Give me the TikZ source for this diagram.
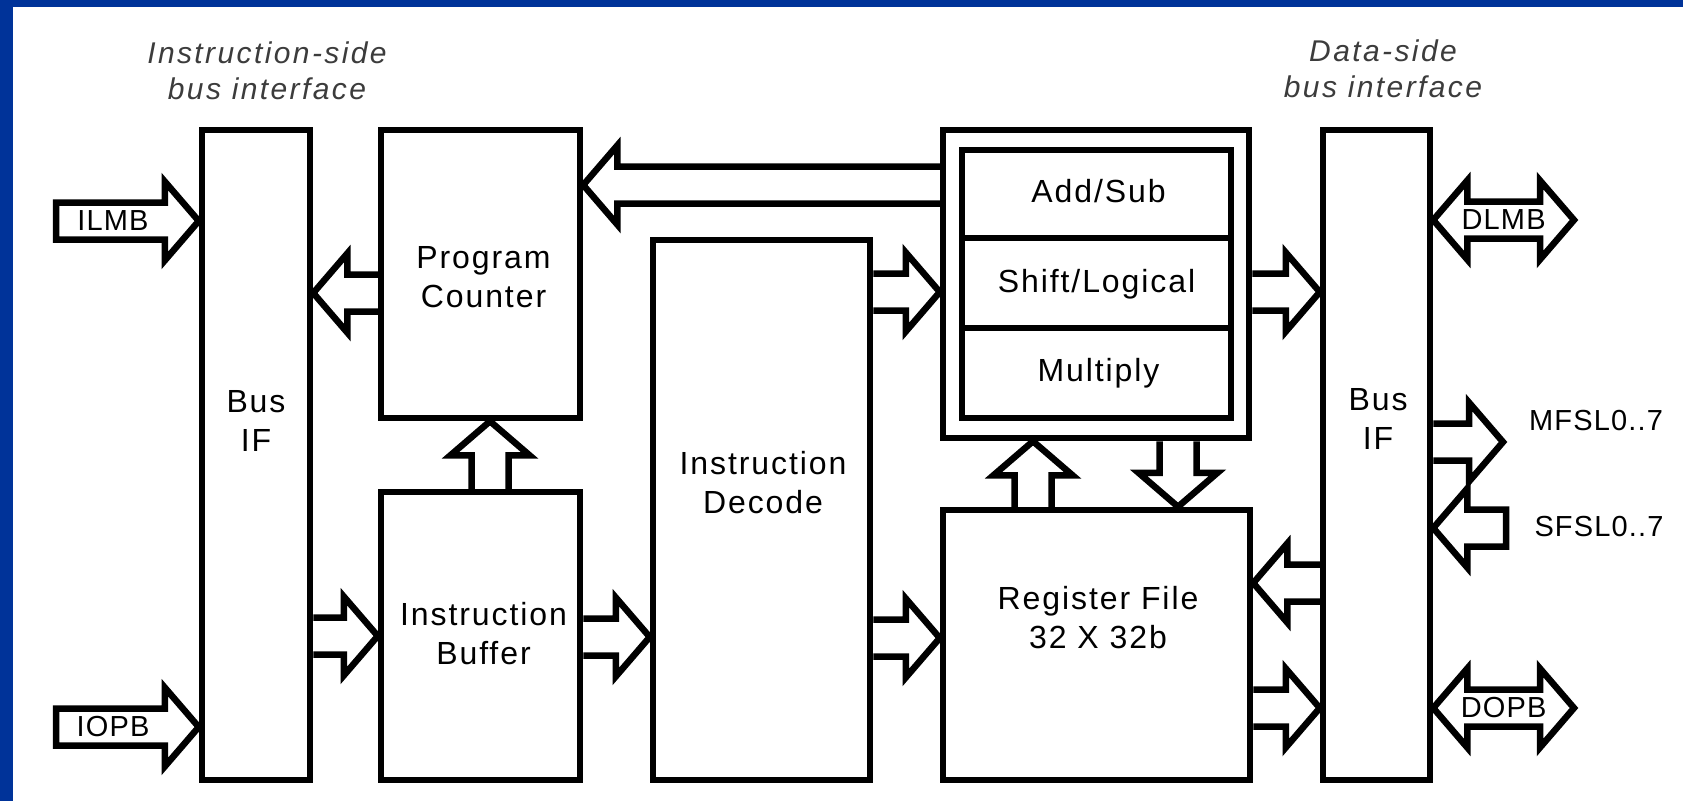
\documentclass[tikz,border=0pt]{standalone}
\usepackage{fontspec}
\setmainfont{Liberation Sans}[LetterSpace=4]
\newfontfamily\boxfam{Liberation Sans}[LetterSpace=6]
\newfontfamily\ttlfam{Liberation Sans}[LetterSpace=8]
\usetikzlibrary{calc}
\definecolor{frameblue}{RGB}{0,51,153}
\definecolor{titlegray}{RGB}{60,60,60}
\newcommand\boxfnt{\boxfam\fontsize{32}{39}\selectfont}
\newcommand\lblfnt{\fontsize{29}{35}\selectfont}
\newcommand\ttlfnt{\ttlfam\itshape\fontsize{30}{36}\selectfont}
\def\fbw{18.5pt}
\def\fhw{39.5pt}
\def\fhl{34pt}
\def\fatbody{%
  ($(\tikztotarget)!\fhl!(\tikztostart)$) coordinate (fab)
  ($(\tikztostart)!\fbw!90:(\tikztotarget)$)
  -- ($(fab)!\fbw!90:(\tikztotarget)$)
  -- ($(fab)!\fhw!90:(\tikztotarget)$)
  -- (\tikztotarget)
  -- ($(fab)!\fhw!-90:(\tikztotarget)$)
  -- ($(fab)!\fbw!-90:(\tikztotarget)$)
  -- ($(\tikztostart)!\fbw!-90:(\tikztotarget)$)}
\begin{document}
\begin{tikzpicture}[x=1pt,y=-1pt,
  box/.style={draw,line width=6.5pt,inner sep=0pt,align=center,font=\boxfnt},
  txt/.style={align=center,font=\boxfnt,inner sep=0pt},
  lbl/.style={align=center,font=\lblfnt,inner sep=0pt},
  ttl/.style={align=center,font=\ttlfnt,text=titlegray,inner sep=0pt},
  fatline/.style={line width=6.5pt,line join=miter,miter limit=10},
  fat/.style={fatline,to path={\fatbody}},
  fatc/.style={fatline,to path={\fatbody -- cycle}},
  dfat/.style={fatline,to path={
    ($(\tikztostart)!\fhl!(\tikztotarget)$) coordinate (fa1)
    ($(\tikztotarget)!\fhl!(\tikztostart)$) coordinate (fa2)
    (\tikztostart)
    -- ($(fa1)!\fhw!90:(\tikztotarget)$)
    -- ($(fa1)!\fbw!90:(\tikztotarget)$)
    -- ($(fa2)!\fbw!90:(\tikztotarget)$)
    -- ($(fa2)!\fhw!90:(\tikztotarget)$)
    -- (\tikztotarget)
    -- ($(fa2)!\fhw!-90:(\tikztotarget)$)
    -- ($(fa2)!\fbw!-90:(\tikztotarget)$)
    -- ($(fa1)!\fbw!-90:(\tikztotarget)$)
    -- ($(fa1)!\fhw!-90:(\tikztotarget)$)
    -- cycle}}
]
% background and frame
\fill[frameblue] (0,0) rectangle (1683,801);
\fill[white] (13,7) rectangle (1683,801);
\useasboundingbox (0,0) rectangle (1683,801);

% titles
\node[ttl] (ttlI) at (267,71) {Instruction-side\\bus interface};
\node[ttl] (ttlD) at (1383,69) {Data-side\\bus interface};

% boxes
\node[box,minimum width=108pt,minimum height=650pt] (busL) at (256,455) {};
\node[txt] (busLt) at ($(busL.center)+(0,-34)$) {Bus\\IF};
\node[box,minimum width=199pt,minimum height=288pt] (pc) at (480.5,274) {};
\node[txt] (pct) at ($(pc.center)+(3,3)$) {Program\\Counter};
\node[box,minimum width=199pt,minimum height=288pt] (ib) at (480.5,636) {};
\node[txt] (ibt) at ($(ib.center)+(3,-2)$) {Instruction\\Buffer};
\node[box,minimum width=217pt,minimum height=540pt] (id) at (761.5,510) {};
\node[txt] (idt) at ($(id.center)+(1.5,-27)$) {Instruction\\Decode};
\node[box,minimum width=306pt,minimum height=308pt] (alu) at (1096,284) {};
\node[box,minimum width=269pt,minimum height=88pt] (add) at (1096.5,194) {};
\node[txt] (addt) at ($(add.center)+(2,-3)$) {Add/Sub};
\node[box,minimum width=269pt,minimum height=90pt] (shl) at (1096.5,283) {};
\node[txt] (shlt) at ($(shl.center)+(0,1)$) {Shift/Logical};
\node[box,minimum width=269pt,minimum height=90pt] (mul) at (1096.5,373) {};
\node[txt] (mult) at ($(mul.center)+(2,0)$) {Multiply};
\node[box,minimum width=307pt,minimum height=270pt] (rf) at (1096.5,645) {};
\node[txt] (rft) at ($(rf.center)+(1.5,-27)$) {Register File\\32 X 32b};
\node[box,minimum width=107pt,minimum height=650pt] (busR) at (1376.5,455) {};
\node[txt] (busRt) at ($(busR.center)+(1.5,-36)$) {Bus\\IF};

% free ends of external buses
\coordinate (ilmbT) at (56,221);
\coordinate (iopbT) at (56,727);
\coordinate (dlmbE) at (1574,220);
\coordinate (mfslT) at (1503,442);
\coordinate (sfslT) at (1506,528);
\coordinate (dopbE) at (1574,708);

% instruction side
\draw[fatc] (ilmbT) to (busL.west |- ilmbT);
\node[lbl] (ilmbL) at ($(ilmbT)+(57,0)$) {ILMB};
\draw[fatc] (iopbT) to (busL.west |- iopbT);
\node[lbl] (iopbL) at ($(iopbT)+(57,0)$) {IOPB};
\draw[fat] (pc.west |- 0,293) to (busL.east |- 0,293);
\draw[fat] (busL.east |- 0,636) to (ib.west |- 0,636);
\draw[fat] (490,0 |- ib.north) to (490,0 |- pc.south);
\draw[fat] (ib.east |- 0,637) to (id.west |- 0,637);

% execution
\draw[fat] (alu.west |- 0,185) to (pc.east |- 0,185);
\draw[fat] (id.east |- 0,292) to (alu.west |- 0,292);
\draw[fat] (id.east |- 0,638) to (rf.west |- 0,638);
\draw[fat] (1033,0 |- rf.north) to (1033,0 |- alu.south);
\draw[fat] (1178,0 |- alu.south) to (1178,0 |- rf.north);

% data side
\draw[fat] (alu.east |- 0,292) to (busR.west |- 0,292);
\draw[fat] (busR.west |- 0,583) to (rf.east |- 0,583);
\draw[fat] (rf.east |- 0,708) to (busR.west |- 0,708);
\draw[dfat] (busR.east |- dlmbE) to (dlmbE);
\node[lbl] (dlmbL) at ($(busR.east |- dlmbE)!0.5!(dlmbE)$) {DLMB};
\draw[fat] (busR.east |- mfslT) to (mfslT);
\node[lbl] (mfslL) at (1596,421) {MFSL0..7};
\draw[fatc] (sfslT) to (busR.east |- sfslT);
\node[lbl] (sfslL) at (1599,527) {SFSL0..7};
\draw[dfat] (busR.east |- dopbE) to (dopbE);
\node[lbl] (dopbL) at ($(busR.east |- dopbE)!0.5!(dopbE)$) {DOPB};
\end{tikzpicture}
\end{document}
